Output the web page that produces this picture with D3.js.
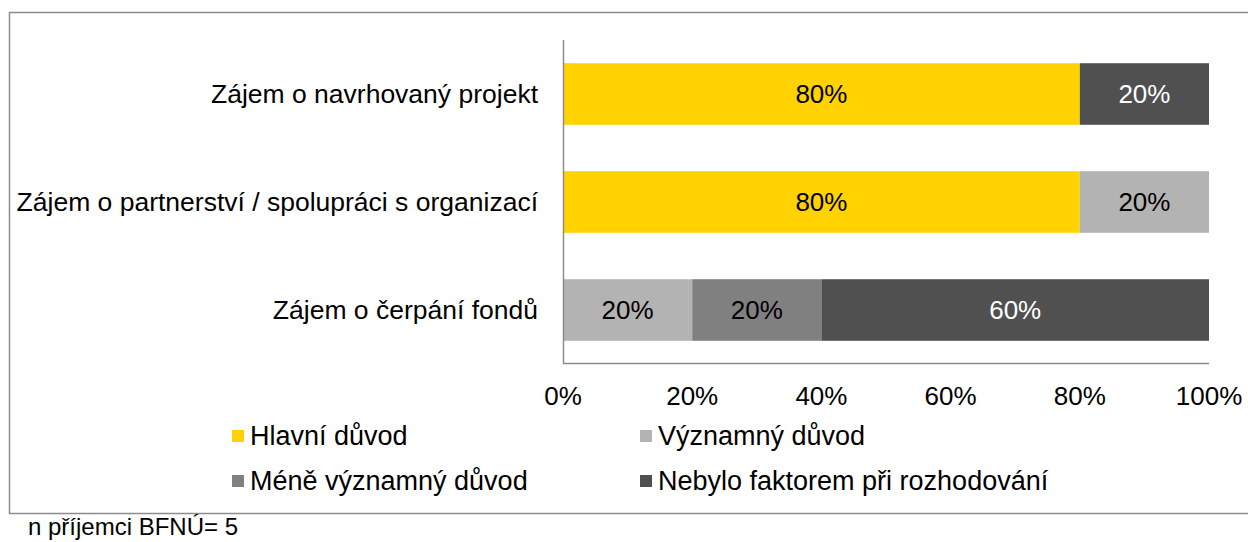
<!DOCTYPE html>
<html>
<head>
<meta charset="utf-8">
<script src="https://cdn.jsdelivr.net/npm/d3@7"></script>
<style>
  body { margin: 0; background: #fff; }
  svg { display: block; font-family: "Liberation Sans", Arial, sans-serif; }
</style>
</head>
<body>
<div id="chart"></div>
<script>
const categories = ["Zájem o navrhovaný projekt", "Zájem o partnerství / spolupráci s organizací", "Zájem o čerpání fondů"];
const seriesNames = ["Hlavní důvod", "Významný důvod", "Méně významný důvod", "Nebylo faktorem při rozhodování"];
const hlavni = [0.8, 0.8, 0];
const vyznamny = [0, 0.2, 0.2];
const menevyz = [0, 0, 0.2];
const nebylo = [0.2, 0, 0.6];
const xTicks = [0, 0.2, 0.4, 0.6, 0.8, 1];
const note = "n příjemci BFNÚ= 5";

const colors = ["#FFD200", "#B3B3B3", "#808080", "#505050"];
const textColors = ["#000", "#000", "#000", "#fff"];

const width = 1248, height = 542;
const svg = d3.select("#chart").append("svg").attr("width", width).attr("height", height);

// outer frame
svg.append("rect").attr("x", 9.5).attr("y", 12.5).attr("width", 1260).attr("height", 501)
  .attr("fill", "none").attr("stroke", "#8c8c8c").attr("stroke-width", 1.5);

const x = d3.scaleLinear().domain([0, 1]).range([563, 1209]);
const y = d3.scaleBand().domain(categories).range([40, 364]).paddingInner(0.43).paddingOuter(0.215);

const rows = categories.map((c, i) => ({ cat: c, v: [hlavni[i], vyznamny[i], menevyz[i], nebylo[i]] }));
const stack = d3.stack().keys([0, 1, 2, 3]).value((d, k) => d.v[k]);
const layers = stack(rows);

const g = svg.append("g");
layers.forEach((layer, k) => {
  const seg = g.selectAll(".s" + k).data(layer.filter(d => d[1] - d[0] > 0)).enter();
  seg.append("rect")
    .attr("x", d => x(d[0]))
    .attr("y", d => y(d.data.cat))
    .attr("width", d => x(d[1]) - x(d[0]))
    .attr("height", y.bandwidth())
    .attr("fill", colors[k]);
  seg.append("text")
    .attr("x", d => (x(d[0]) + x(d[1])) / 2)
    .attr("y", d => y(d.data.cat) + y.bandwidth() / 2)
    .attr("dy", "0.35em")
    .attr("text-anchor", "middle")
    .attr("font-size", 26)
    .attr("fill", textColors[k])
    .text(d => d3.format(".0%")(d[1] - d[0]));
});

// axes lines
svg.append("line").attr("x1", 563.5).attr("x2", 563.5).attr("y1", 40).attr("y2", 364)
  .attr("stroke", "#8c8c8c").attr("stroke-width", 1.5);
svg.append("line").attr("x1", 563).attr("x2", 1209).attr("y1", 363.5).attr("y2", 363.5)
  .attr("stroke", "#8c8c8c").attr("stroke-width", 1.5);

// category labels
svg.selectAll(".cat").data(categories).enter().append("text")
  .attr("x", 538)
  .attr("y", d => y(d) + y.bandwidth() / 2)
  .attr("dy", "0.35em")
  .attr("text-anchor", "end")
  .attr("font-size", 26.5)
  .attr("fill", "#000")
  .text(d => d);

// x tick labels
svg.selectAll(".tick").data(xTicks).enter().append("text")
  .attr("x", d => x(d))
  .attr("y", 396)
  .attr("dy", "0.35em")
  .attr("text-anchor", "middle")
  .attr("font-size", 26)
  .text(d => d3.format(".0%")(d));

// legend
const legPos = [[232, 436], [640, 436], [232, 481], [640, 481]];
seriesNames.forEach((n, k) => {
  const [lx, ly] = legPos[k];
  svg.append("rect").attr("x", lx).attr("y", ly - 6).attr("width", 12).attr("height", 12).attr("fill", colors[k]);
  svg.append("text").attr("x", lx + 18).attr("y", ly).attr("dy", "0.35em")
    .attr("font-size", 27).text(n);
});

svg.append("text").attr("x", 28).attr("y", 527).attr("dy", "0.35em")
  .attr("font-size", 24).text(note);
</script>
</body>
</html>
